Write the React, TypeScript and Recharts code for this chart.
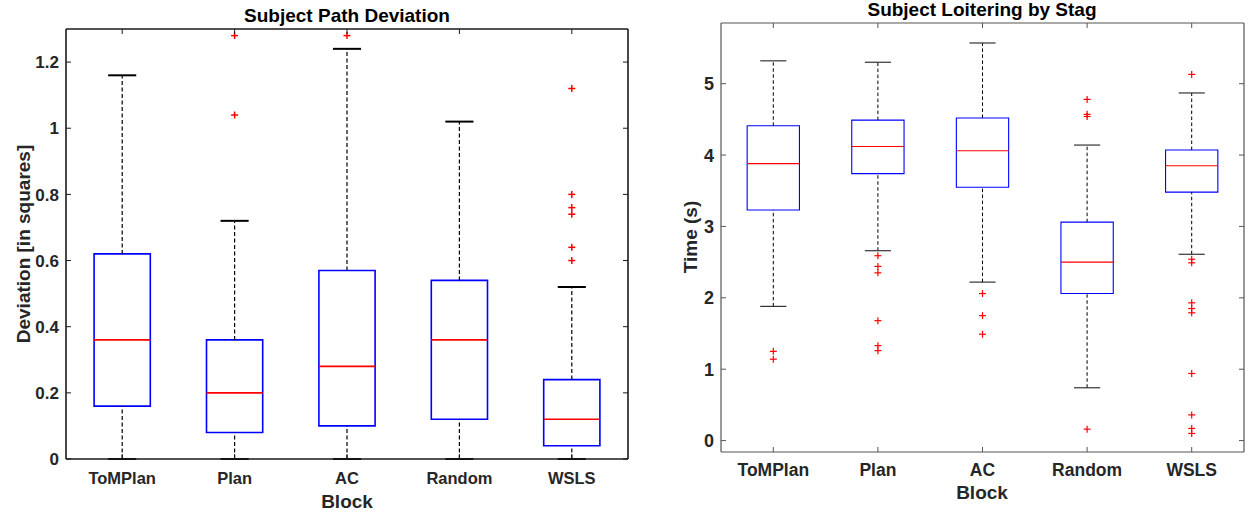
import React from 'react';
import { ComposedChart, XAxis, YAxis, ReferenceLine, ReferenceArea, Scatter } from 'recharts';

const BLOCKS = ['ToMPlan', 'Plan', 'AC', 'Random', 'WSLS'];

// Path deviation, in squares
const DEV_LOWER = [0, 0, 0, 0, 0];
const DEV_Q1 = [0.16, 0.08, 0.1, 0.12, 0.04];
const DEV_MEDIAN = [0.36, 0.2, 0.28, 0.36, 0.12];
const DEV_Q3 = [0.62, 0.36, 0.57, 0.54, 0.24];
const DEV_UPPER = [1.16, 0.72, 1.24, 1.02, 0.52];
const DEV_OUTLIERS = [[], [1.04, 1.28], [1.28], [], [0.6, 0.64, 0.74, 0.76, 0.8, 1.12]];
const DEV_TICKS = [0, 0.2, 0.4, 0.6, 0.8, 1, 1.2];

// Loitering time near the stag, seconds
const LOITER_LOWER = [1.88, 2.66, 2.22, 0.74, 2.61];
const LOITER_Q1 = [3.23, 3.74, 3.55, 2.06, 3.48];
const LOITER_MEDIAN = [3.88, 4.12, 4.06, 2.5, 3.85];
const LOITER_Q3 = [4.41, 4.49, 4.52, 3.06, 4.07];
const LOITER_UPPER = [5.32, 5.3, 5.57, 4.14, 4.87];
const LOITER_OUTLIERS = [
  [1.14, 1.25],
  [1.26, 1.33, 1.68, 2.35, 2.44, 2.59],
  [1.49, 1.75, 2.06],
  [0.16, 4.54, 4.57, 4.78],
  [0.1, 0.17, 0.36, 0.94, 1.79, 1.85, 1.93, 2.49, 2.54, 5.13],
];
const LOITER_TICKS = [0, 1, 2, 3, 4, 5];

const FONT = '"Liberation Sans", Arial, Helvetica, sans-serif';
const TEXT = '#262626';

interface Stats {
  lower: number[];
  q1: number[];
  median: number[];
  q3: number[];
  upper: number[];
  outliers: number[][];
}

interface Look {
  axis: string;
  axisWidth: number;
  box: number;
  whisker: number;
  cap: number;
  capColor: string;
  dash: string;
  plus: number;
  plusWidth: number;
  tickFont: number;
  tickGap: number;
}

interface PanelProps {
  stats: Stats;
  look: Look;
  width: number;
  height: number;
  // space taken by each axis around the plot area
  frame: { top: number; right: number; bottom: number; left: number };
  domain: [number, number];
  yTicks: number[];
}

const BOX_HALF = 0.25;
const CAP_HALF = 0.125;
const CAT_TICKS = [1, 2, 3, 4, 5];

const fmt = (v: number) => String(Math.round(v * 10) / 10);

const BoxPanel: React.FC<PanelProps> = ({ stats, look, width, height, frame, domain, yTicks }) => {
  const points = stats.outliers.flatMap((vals, i) => vals.map(v => ({ x: i + 1, y: v })));

  const plus = (p: any) => {
    const { cx, cy } = p;
    const s = look.plus;
    return (
      <g>
        <line x1={cx - s} x2={cx + s} y1={cy} y2={cy} stroke="#ff0000" strokeWidth={look.plusWidth} />
        <line x1={cx} x2={cx} y1={cy - s} y2={cy + s} stroke="#ff0000" strokeWidth={look.plusWidth} />
      </g>
    );
  };

  const bottomTick = (p: any) => (
    <g>
      <line x1={p.x} x2={p.x} y1={p.y} y2={p.y - 5} stroke={look.axis} strokeWidth={1} />
      <text x={p.x} y={p.y + look.tickGap} textAnchor="middle" fontFamily={FONT} fontWeight="bold"
        fontSize={look.tickFont} fill={TEXT}>
        {BLOCKS[Math.round(p.payload.value) - 1]}
      </text>
    </g>
  );
  const topTick = (p: any) => (
    <line x1={p.x} x2={p.x} y1={p.y} y2={p.y + 5} stroke={look.axis} strokeWidth={1} />
  );
  const leftTick = (p: any) => (
    <g>
      <line x1={p.x} x2={p.x + 5} y1={p.y} y2={p.y} stroke={look.axis} strokeWidth={1} />
      <text x={p.x - 7} y={p.y} dy="0.36em" textAnchor="end" fontFamily={FONT} fontWeight="bold"
        fontSize={look.tickFont + 0.5} fill={TEXT}>
        {fmt(p.payload.value)}
      </text>
    </g>
  );
  const rightTick = (p: any) => (
    <line x1={p.x} x2={p.x - 5} y1={p.y} y2={p.y} stroke={look.axis} strokeWidth={1} />
  );

  const axisLine = { stroke: look.axis, strokeWidth: look.axisWidth };

  return (
    <ComposedChart width={width} height={height} margin={{ top: 0, right: 0, bottom: 0, left: 0 }} data={points}>
      <XAxis dataKey="x" type="number" domain={[0.5, 5.5]} ticks={CAT_TICKS} interval={0}
        allowDataOverflow height={frame.bottom} tickSize={0} tickMargin={0} axisLine={axisLine} tickLine={false}
        tick={bottomTick} />
      <XAxis xAxisId="top" orientation="top" dataKey="x" type="number" domain={[0.5, 5.5]} ticks={CAT_TICKS}
        interval={0} allowDataOverflow height={frame.top} tickSize={0} tickMargin={0} axisLine={axisLine}
        tickLine={false} tick={topTick} />
      <YAxis type="number" domain={domain} ticks={yTicks} interval={0} allowDataOverflow width={frame.left}
        tickSize={0} tickMargin={0} axisLine={axisLine} tickLine={false} tick={leftTick} />
      <YAxis yAxisId="right" orientation="right" type="number" domain={domain} ticks={yTicks} interval={0}
        allowDataOverflow width={frame.right} tickSize={0} tickMargin={0} axisLine={axisLine} tickLine={false}
        tick={rightTick} />

      {BLOCKS.map((_, i) => {
        const x = i + 1;
        return (
          <React.Fragment key={`w${i}`}>
            <ReferenceLine segment={[{ x, y: stats.lower[i] }, { x, y: stats.q1[i] }]} stroke="#000"
              strokeWidth={look.whisker} strokeDasharray={look.dash} />
            <ReferenceLine segment={[{ x, y: stats.q3[i] }, { x, y: stats.upper[i] }]} stroke="#000"
              strokeWidth={look.whisker} strokeDasharray={look.dash} />
            <ReferenceLine segment={[{ x: x - CAP_HALF, y: stats.lower[i] }, { x: x + CAP_HALF, y: stats.lower[i] }]}
              stroke={look.capColor} strokeWidth={look.cap} />
            <ReferenceLine segment={[{ x: x - CAP_HALF, y: stats.upper[i] }, { x: x + CAP_HALF, y: stats.upper[i] }]}
              stroke={look.capColor} strokeWidth={look.cap} />
          </React.Fragment>
        );
      })}
      {BLOCKS.map((_, i) => (
        <ReferenceArea key={`b${i}`} x1={i + 1 - BOX_HALF} x2={i + 1 + BOX_HALF} y1={stats.q1[i]} y2={stats.q3[i]}
          fill="none" fillOpacity={0} stroke="#0000ff" strokeWidth={look.box} />
      ))}
      {BLOCKS.map((_, i) => (
        <ReferenceLine key={`m${i}`}
          segment={[{ x: i + 1 - BOX_HALF, y: stats.median[i] }, { x: i + 1 + BOX_HALF, y: stats.median[i] }]}
          stroke="#ff0000" strokeWidth={look.box} />
      ))}
      <Scatter dataKey="y" shape={plus} isAnimationActive={false} />
    </ComposedChart>
  );
};

const devStats: Stats = {
  lower: DEV_LOWER, q1: DEV_Q1, median: DEV_MEDIAN, q3: DEV_Q3, upper: DEV_UPPER, outliers: DEV_OUTLIERS,
};
const loiterStats: Stats = {
  lower: LOITER_LOWER, q1: LOITER_Q1, median: LOITER_MEDIAN, q3: LOITER_Q3, upper: LOITER_UPPER,
  outliers: LOITER_OUTLIERS,
};

const devLook: Look = {
  axis: '#1a1a1a', axisWidth: 1.6, box: 1.6, whisker: 1.2, cap: 2, capColor: '#000', dash: '4 2.5',
  plus: 3.5, plusWidth: 1.5, tickFont: 16.5, tickGap: 25,
};
const loiterLook: Look = {
  axis: '#555555', axisWidth: 1.2, box: 1.1, whisker: 1, cap: 1.2, capColor: '#333', dash: '3.5 2.5',
  plus: 3.5, plusWidth: 1.2, tickFont: 17.5, tickGap: 23.5,
};

const label = { fontFamily: FONT, fontWeight: 'bold' as const, fill: TEXT };

const App: React.FC = () => {
  return (
    <div style={{ position: 'absolute', left: 0, top: 0, width: 1248, height: 514, background: '#fff' }}>
      <div style={{ position: 'absolute', left: 0, top: 0 }}>
        <BoxPanel stats={devStats} look={devLook} width={640} height={514}
          frame={{ top: 29, right: 12, bottom: 55, left: 66 }} domain={[0, 1.3]} yTicks={DEV_TICKS} />
      </div>
      <div style={{ position: 'absolute', left: 640, top: 0 }}>
        <BoxPanel stats={loiterStats} look={loiterLook} width={608} height={514}
          frame={{ top: 23, right: 4, bottom: 62, left: 81 }} domain={[-0.16, 5.85]} yTicks={LOITER_TICKS} />
      </div>
      <svg width={1248} height={514} style={{ position: 'absolute', left: 0, top: 0, pointerEvents: 'none' }}>
        <text x={347} y={22} textAnchor="middle" fontSize={19} {...label} fill="#000">Subject Path Deviation</text>
        <text x={347} y={508} textAnchor="middle" fontSize={19} {...label}>Block</text>
        <text transform="translate(30,244) rotate(-90)" textAnchor="middle" fontSize={19} {...label}>
          Deviation [in squares]
        </text>
        <text x={982} y={16} textAnchor="middle" fontSize={19} {...label} fill="#000">Subject Loitering by Stag</text>
        <text x={982} y={499} textAnchor="middle" fontSize={19} {...label}>Block</text>
        <text transform="translate(697,237) rotate(-90)" textAnchor="middle" fontSize={19} {...label}>
          Time (s)
        </text>
      </svg>
    </div>
  );
};

export default App;
